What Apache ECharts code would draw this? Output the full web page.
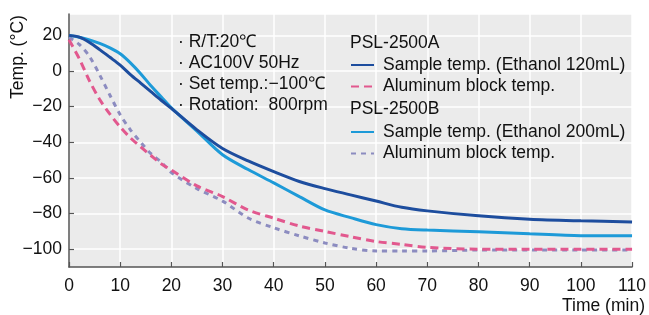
<!DOCTYPE html>
<html>
<head>
<meta charset="utf-8">
<script src="https://cdn.jsdelivr.net/npm/echarts@6/dist/echarts.min.js"></script>
<style>
  html, body { margin: 0; padding: 0; background: #fff; }
  #chart { width: 649px; height: 315px; }
</style>
</head>
<body>
<div id="chart"></div>
<script>
// time (min)
const times = [0, 2, 4, 6, 8, 10, 12, 14, 16, 18, 20, 25, 30, 35, 40, 45, 50, 55, 60, 65, 70, 80, 90, 100, 110]

// temperatures (°C)
const sampleA = [20, 19, 16, 12, 7.7, 3.3, -2, -6.8, -11.6, -16.4, -21, -33, -43.5, -50.5, -56.5, -62, -66, -69.5, -73, -76.5, -78.5, -81.3, -83.2, -84.1, -84.7]
const blockA = [17.5, 7, -5.5, -16, -24.2, -31.4, -37.5, -42.6, -47.4, -52, -55.6, -64.5, -70.5, -78, -82.6, -87, -90, -93, -95.7, -97.3, -99, -100, -100, -100, -100]
const sampleB = [20, 19, 17.5, 15.5, 13, 9.7, 4.6, -1.5, -8.3, -14.5, -20.7, -33.7, -47, -55.3, -62.8, -70.5, -78, -82.3, -86.2, -88.5, -89.3, -90.2, -91.4, -92.4, -92.5]
const blockB = [19, 14.9, 8.2, -2.2, -13.6, -24.5, -33, -40, -46.4, -51.1, -57, -66, -73, -82.5, -88, -92.5, -96.5, -99.5, -101, -101, -101, -100.5, -100.5, -100.5, -100.5]

const yTicks = [-100, -80, -60, -40, -20, 0, 20]

const notes = ['· R/T:20℃', '· AC100V 50Hz', '· Set temp.:−100℃', '· Rotation:  800rpm']

const labels = {
  sA: 'Sample temp. (Ethanol 120mL)',
  bA: 'Aluminum block temp.',
  sB: 'Sample temp. (Ethanol 200mL)',
  bB: 'Aluminum block temp.'
}

const font = 'Liberation Sans, Arial, Helvetica, sans-serif'
const chart = echarts.init(document.getElementById('chart'))

function pairs(vals) {
  return times.map((t, i) => [t, vals[i]])
}

function minus(v) {
  return v < 0 ? '\u2212' + Math.abs(v) : String(v)
}

function lineSeries(name, vals, color, dash, z) {
  return {
    name: name,
    type: 'line',
    yAxisIndex: 0,
    smooth: 0.3,
    showSymbol: false,
    symbol: 'none',
    z: z,
    lineStyle: { color: color, width: 3, type: dash },
    itemStyle: { color: color },
    data: pairs(vals)
  }
}

const legendBase = {
  orient: 'vertical',
  left: 350,
  itemWidth: 23,
  itemHeight: 14,
  itemGap: 3.5,
  padding: 0,
  z: 20,
  selectedMode: false,
  itemStyle: { opacity: 0 },
  textStyle: { fontFamily: font, fontSize: 17.5, color: '#111', padding: [0, 0, 0, 4] },
  formatter: name => labels[name]
}

function txt(left, top, text) {
  return {
    type: 'text', left: left, top: top, z: 100,
    style: { text: text, fontFamily: font, fontSize: 17.5, fill: '#111' }
  }
}

const option = {
  backgroundColor: '#fff',
  animation: false,
  grid: {
    left: 69, right: 13, top: 14, bottom: 48,
    show: true, backgroundColor: '#ebebeb', borderWidth: 0
  },
  xAxis: {
    type: 'value',
    min: 0, max: 110, interval: 10,
    axisLine: { onZero: false, lineStyle: { color: '#555', width: 1.5 } },
    axisTick: { inside: true, length: 5, lineStyle: { color: '#555', width: 1.2 } },
    axisLabel: { margin: 10, fontFamily: font, fontSize: 17.5, color: '#111' },
    splitLine: { show: true, lineStyle: { color: '#fff', width: 1.5 } }
  },
  yAxis: [
    {
      type: 'value',
      position: 'left',
      min: -110, max: 32,
      axisLine: { show: true, onZero: false, lineStyle: { color: '#555', width: 1.5 } },
      axisTick: { show: true, inside: true, length: 5, customValues: yTicks, lineStyle: { color: '#555', width: 1.2 } },
      axisLabel: { margin: 7, customValues: yTicks, fontFamily: font, fontSize: 17.5, color: '#111', formatter: minus },
      splitLine: { show: false }
    },
    {
      // grid lines only, every 20 from -100
      type: 'value',
      position: 'right',
      min: -110, max: 32, interval: 10,
      axisLine: { show: false },
      axisTick: { show: false },
      axisLabel: { show: false },
      splitLine: { show: true, lineStyle: { color: ['rgba(0,0,0,0)', '#fff'], width: 1.5 } }
    }
  ],
  legend: [
    Object.assign({}, legendBase, { top: 56, data: ['sA', 'bA'] }),
    Object.assign({}, legendBase, { top: 123, data: ['sB', 'bB'] })
  ],
  graphic: [
    {
      type: 'text', x: 18, y: 57, rotation: Math.PI / 2, z: 100,
      style: { text: 'Temp. (°C)', fontFamily: font, fontSize: 17.5, fill: '#111', textAlign: 'center', textVerticalAlign: 'middle' }
    },
    txt(562, 297, 'Time (min)'),
    txt(350, 34, 'PSL-2500A'),
    txt(350, 100, 'PSL-2500B')
  ].concat(notes.map((t, i) => txt(178, 33 + i * 21, t))),
  series: [
    lineSeries('bB', blockB, '#8c8cc0', [5, 5], 2),
    lineSeries('bA', blockA, '#e2588e', [8, 5], 3),
    lineSeries('sB', sampleB, '#1d9ad8', 'solid', 4),
    lineSeries('sA', sampleA, '#1d4d9e', 'solid', 5)
  ]
}

chart.setOption(option)
</script>
</body>
</html>
